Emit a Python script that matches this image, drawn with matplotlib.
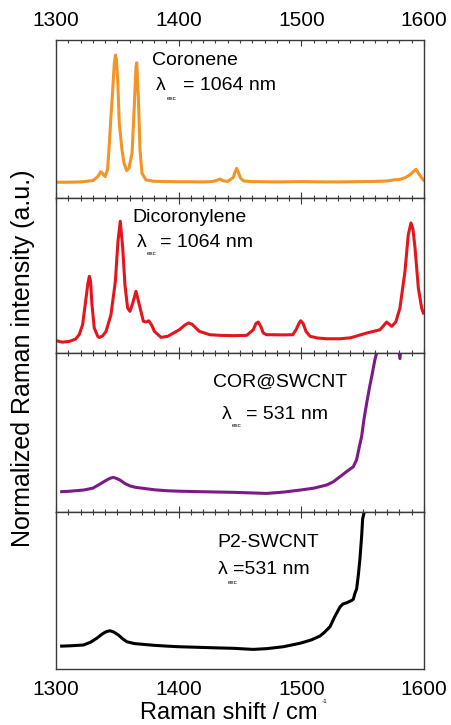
import matplotlib.pyplot as plt
from matplotlib.ticker import MultipleLocator

plt.rcParams['font.family'] = ['Liberation Sans', 'DejaVu Sans']

# Coronene, excitation 1064 nm
coronene_shift = [1300, 1310, 1320, 1330, 1334, 1336.5, 1338, 1340, 1342, 1343, 1344.8,
                  1346.2, 1347.5, 1348.4, 1349.2, 1350.3, 1351.6, 1353.8, 1355.5, 1357.6,
                  1359.5, 1362, 1363.8, 1365.2, 1365.8, 1366.5, 1367.4, 1368.5, 1370.1,
                  1373.4, 1380, 1390, 1400, 1410, 1420, 1428, 1431, 1433.7, 1436, 1440,
                  1444.5, 1446, 1447.3, 1448.5, 1450.5, 1453, 1460, 1470, 1480, 1490, 1500,
                  1510, 1520, 1530, 1540, 1550, 1560, 1570, 1576, 1580.4, 1585, 1589,
                  1593.5, 1596, 1599.5]
coronene_int = [0.10, 0.10, 0.102, 0.11, 0.135, 0.166, 0.155, 0.135, 0.18, 0.283, 0.515,
                0.68, 0.85, 0.905, 0.88, 0.747, 0.474, 0.304, 0.22, 0.173,
                0.19, 0.283, 0.578, 0.83, 0.856, 0.75, 0.578, 0.304, 0.156,
                0.114, 0.106, 0.104, 0.103, 0.103, 0.102, 0.105, 0.112, 0.12, 0.11, 0.105,
                0.13, 0.165, 0.188, 0.165, 0.125, 0.108, 0.104, 0.103, 0.102, 0.103, 0.104,
                0.103, 0.102, 0.102, 0.103, 0.104, 0.105, 0.108, 0.115, 0.118, 0.13, 0.15,
                0.182, 0.15, 0.114]

# Dicoronylene, excitation 1064 nm
dicor_shift = [1300, 1305, 1310.9, 1316, 1319, 1321.7, 1324.5, 1326, 1327.2, 1328.2, 1329.3,
               1331.2, 1334, 1335.3, 1338, 1340.8, 1344.8, 1348.4, 1350.5, 1352.4, 1354.4,
               1356.2, 1358.4, 1360.3, 1362.5, 1365.2, 1367.9, 1371.2, 1373.5, 1375.6, 1378,
               1380.2, 1385.6, 1391.1, 1396, 1400.5, 1405, 1408.1, 1411, 1416.8, 1425.5,
               1433.7, 1445, 1455.5, 1460.8, 1463, 1464.9, 1467, 1469, 1471.7, 1477, 1485,
               1493, 1495.7, 1498, 1499.5, 1501.5, 1503.8, 1507.1, 1513, 1520.7, 1531.5,
               1540, 1553.3, 1564.1, 1569.6, 1573.7, 1577, 1580.4, 1584.5, 1587.2, 1589.4,
               1591, 1592.7, 1595.4, 1598.1, 1599.5]
dicor_int = [0.08, 0.07, 0.075, 0.09, 0.12, 0.183, 0.355, 0.45, 0.495, 0.46, 0.312,
             0.161, 0.108, 0.10, 0.11, 0.14, 0.247, 0.463, 0.72, 0.85, 0.677,
             0.44, 0.29, 0.269, 0.32, 0.398, 0.312, 0.205, 0.2, 0.208, 0.18,
             0.14, 0.101, 0.108, 0.13, 0.15, 0.18, 0.194, 0.185, 0.14, 0.118,
             0.114, 0.112, 0.114, 0.15, 0.19, 0.2, 0.17, 0.129, 0.118, 0.118, 0.117,
             0.118, 0.15, 0.19, 0.208, 0.19, 0.14, 0.108, 0.097, 0.092, 0.092,
             0.098, 0.129, 0.15, 0.2, 0.172, 0.2, 0.29, 0.527, 0.763, 0.839,
             0.8, 0.677, 0.42, 0.29, 0.258]

# COR@SWCNT, excitation 531 nm
cor_swcnt_shift = [1304.6, 1310, 1316, 1322.3, 1330, 1335.9, 1341, 1344, 1346.7, 1349, 1352.2,
                   1356, 1360.3, 1365, 1371.2, 1380, 1390.2, 1400, 1417.4, 1430, 1444.5,
                   1460, 1471.7, 1485, 1498.9, 1510, 1520.7, 1526, 1531.5, 1537, 1542.4,
                   1545.1, 1547, 1549.2, 1551, 1553.3, 1555.5, 1557.4, 1560, 1561.4, 1564,
                   1575, 1578, 1580.4, 1582, 1590, 1600]
cor_swcnt_int = [0.128, 0.13, 0.134, 0.138, 0.15, 0.176, 0.2, 0.212, 0.218, 0.212, 0.201,
                 0.18, 0.164, 0.155, 0.149, 0.14, 0.134, 0.131, 0.128, 0.126, 0.124,
                 0.12, 0.117, 0.125, 0.138, 0.15, 0.17, 0.19, 0.222, 0.255, 0.285,
                 0.33, 0.4, 0.476, 0.58, 0.686, 0.78, 0.853, 0.958, 1.0, 1.2,
                 1.6, 1.1, 0.965, 1.1, 1.6, 1.8]

# P2-SWCNT, excitation 531 nm
p2_shift = [1304.6, 1312, 1322.3, 1328, 1333.2, 1338, 1341, 1344, 1347, 1350.8, 1354,
            1357.6, 1364, 1371.2, 1380, 1390.2, 1400, 1417.4, 1430, 1444.5, 1460.8, 1472,
            1485.3, 1498.9, 1508, 1515.2, 1519, 1523.4, 1527, 1531.5, 1534, 1537, 1541.1,
            1542.4, 1543.7, 1545.1, 1546.5, 1547.8, 1549.2, 1550, 1551.3, 1555, 1600]
p2_int = [0.146, 0.148, 0.153, 0.17, 0.196, 0.225, 0.238, 0.244, 0.236, 0.217, 0.195,
          0.174, 0.162, 0.157, 0.151, 0.146, 0.142, 0.138, 0.135, 0.132, 0.125, 0.13,
          0.142, 0.164, 0.185, 0.21, 0.235, 0.27, 0.33, 0.395, 0.415, 0.422, 0.437,
          0.445, 0.482, 0.511, 0.6, 0.703, 0.85, 0.957, 1.0, 1.3, 2.0]

names = ['Coronene', 'Dicoronylene', 'COR@SWCNT', 'P2-SWCNT']
lasers = ['= 1064 nm', '= 1064 nm', '= 531 nm', '=531 nm']
colors = ['#F39426', '#E3161E', '#7A1B86', '#000000']

# label placement per panel (axes fraction): name, lambda, "exc", rest
name_xy = [(0.260, 0.873), (0.208, 0.877), (0.427, 0.818), (0.4375, 0.803)]
lam_xy = [(0.272, 0.715), (0.220, 0.716), (0.451, 0.613), (0.440, 0.631)]
exc_xy = [(0.300, 0.630), (0.247, 0.642), (0.478, 0.545), (0.468, 0.552)]
eq_xy = [(0.344, 0.715), (0.283, 0.716), (0.516, 0.613), (0.481, 0.631)]

fig = plt.figure(figsize=(4.51, 7.25), dpi=100)
gs = fig.add_gridspec(4, 1, height_ratios=[158, 155, 159, 157], hspace=0,
                      left=0.1242, right=0.9401, top=0.9448, bottom=0.0772)

data = [(coronene_shift, coronene_int), (dicor_shift, dicor_int),
        (cor_swcnt_shift, cor_swcnt_int), (p2_shift, p2_int)]

for i, (x, y) in enumerate(data):
    ax = fig.add_subplot(gs[i])
    ax.plot(x, y, color=colors[i], lw=2.2)
    ax.set_xlim(1300, 1600)
    ax.set_ylim(0, 1)
    ax.set_yticks([])
    for sp in ax.spines.values():
        sp.set_color('#3a3a3a')
        sp.set_linewidth(1.0)
    ax.xaxis.set_major_locator(MultipleLocator(100))
    ax.xaxis.set_minor_locator(MultipleLocator(10))
    ax.tick_params(axis='x', which='both', direction='in', top=True, bottom=True,
                   labeltop=False, labelbottom=False, color='#3a3a3a', width=0.8)
    ax.tick_params(axis='x', which='major', length=4)
    ax.tick_params(axis='x', which='minor', length=2.2)
    if i == 0:
        ax.tick_params(axis='x', labeltop=True, labelsize=15, pad=7)
    if i == 3:
        ax.tick_params(axis='x', which='both', bottom=False, labelbottom=True,
                       labelsize=15, pad=8)

    ax.text(*name_xy[i], names[i], transform=ax.transAxes, fontsize=14,
            ha='left', va='center')
    ax.text(*lam_xy[i], 'λ', transform=ax.transAxes, fontsize=14,
            ha='left', va='center')
    ax.text(*exc_xy[i], 'exc', transform=ax.transAxes, fontsize=4.5,
            ha='left', va='center')
    ax.text(*eq_xy[i], lasers[i], transform=ax.transAxes, fontsize=14,
            ha='left', va='center')

fig.text(0.05, 0.506, 'Normalized Raman intensity (a.u.)', rotation=90,
         fontsize=18, ha='center', va='center')
fig.text(0.310, 0.008, 'Raman shift / cm', fontsize=17, ha='left', va='baseline')
fig.text(0.713, 0.033, '-1', fontsize=4.5, ha='left', va='center')

fig.savefig('out.png', dpi=100)
